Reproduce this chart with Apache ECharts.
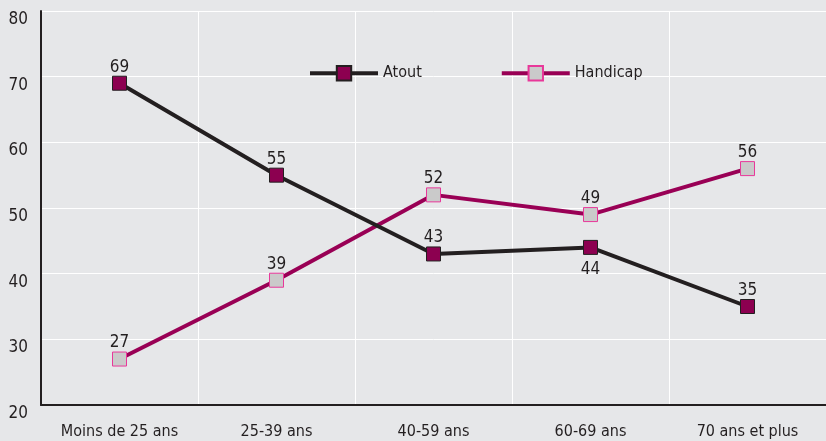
<!DOCTYPE html>
<html><head><meta charset="utf-8">
<script src="https://cdn.jsdelivr.net/npm/echarts@6/dist/echarts.min.js"></script>
<style>html,body{margin:0;padding:0;background:#e6e7e9;}#c{width:826px;height:441px;}</style>
</head><body><div id="c"></div>
<script>
var categories = ['Moins de 25 ans', '25-39 ans', '40-59 ans', '60-69 ans', '70 ans et plus'];
var atout = [69, 55, 43, 44, 35];
var handicap = [27, 39, 52, 49, 56];
var atoutLabelPos = ['top', 'top', 'top', 'bottom', 'top'];
var FONT = '"DejaVu Sans Condensed", "Liberation Sans Narrow", sans-serif';
var chart = echarts.init(document.getElementById('c'));
chart.setOption({
  backgroundColor: '#e6e7e9',
  animation: false,
  grid: {left: 41, right: 0, top: 11, bottom: 36},
  legend: {
    left: 303, top: 60, itemWidth: 68, itemHeight: 18, itemGap: 78,
    lineStyle: {width: 4},
    textStyle: {fontFamily: FONT, fontSize: 16, color: '#231f20'},
    data: ['Atout', 'Handicap']
  },
  xAxis: {
    type: 'category', data: categories, boundaryGap: true,
    axisLine: {lineStyle: {color: '#231f20', width: 2}},
    axisTick: {show: false},
    axisLabel: {fontFamily: FONT, fontSize: 16, color: '#231f20', margin: 19},
    splitLine: {show: true, lineStyle: {color: '#ffffff', width: 1}}
  },
  yAxis: {
    type: 'value', min: 20, max: 80, interval: 10,
    axisLine: {show: true, lineStyle: {color: '#231f20', width: 2}},
    axisTick: {show: false},
    axisLabel: {fontFamily: FONT, fontSize: 17, color: '#231f20', margin: 13, verticalAlign: 'top', lineHeight: 17},
    splitLine: {show: true, lineStyle: {color: '#ffffff', width: 1}}
  },
  series: [
    {
      name: 'Atout', type: 'line', data: atout.map(function (v, i) {
        return {value: v, label: {position: atoutLabelPos[i], distance: atoutLabelPos[i] === 'bottom' ? 6 : 0}};
      }),
      symbol: 'rect', symbolSize: 14,
      lineStyle: {color: '#231f20', width: 4},
      itemStyle: {color: '#8c0050', borderColor: '#231f20', borderWidth: 1},
      label: {show: true, fontFamily: FONT, fontSize: 17, color: '#231f20', distance: 0},
      z: 3
    },
    {
      name: 'Handicap', type: 'line', data: handicap,
      symbol: 'rect', symbolSize: 14,
      lineStyle: {color: '#990055', width: 4},
      itemStyle: {color: '#cacaca', borderColor: '#e8389a', borderWidth: 1},
      label: {show: true, position: 'top', fontFamily: FONT, fontSize: 17, color: '#231f20', distance: 0},
      z: 2
    }
  ]
});
</script></body></html>
